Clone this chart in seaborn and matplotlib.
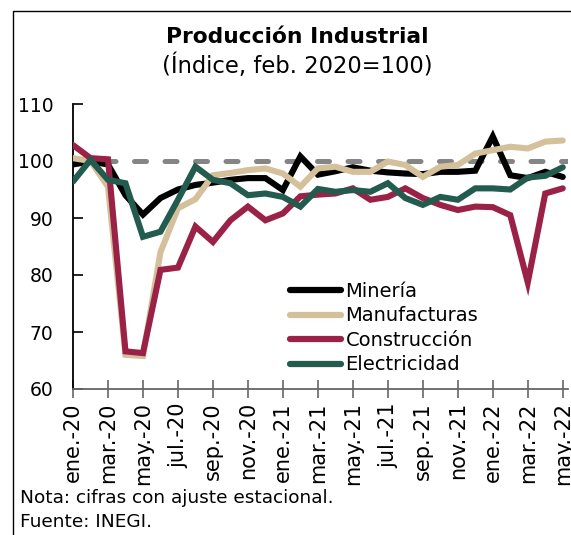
import matplotlib
matplotlib.use("Agg")
import matplotlib.pyplot as plt
import matplotlib.patches as mpatches
import seaborn as sns
import pandas as pd
import numpy as np

months = ["ene.-20", "feb.-20", "mar.-20", "abr.-20", "may.-20", "jun.-20", "jul.-20",
          "ago.-20", "sep.-20", "oct.-20", "nov.-20", "dic.-20",
          "ene.-21", "feb.-21", "mar.-21", "abr.-21", "may.-21", "jun.-21", "jul.-21",
          "ago.-21", "sep.-21", "oct.-21", "nov.-21", "dic.-21",
          "ene.-22", "feb.-22", "mar.-22", "abr.-22", "may.-22"]

mineria = [99.4, 99.9, 99.4, 94.0, 90.6, 93.5, 95.0, 95.8, 96.2, 96.7, 97.0, 97.0,
           94.9, 100.8, 97.6, 98.2, 98.9, 98.3, 98.0, 97.8, 97.7, 98.1, 98.1, 98.3,
           104.3, 97.5, 97.0, 98.1, 97.2]
manufacturas = [100.5, 100.0, 95.5, 66.0, 65.8, 84.0, 91.7, 93.3, 97.5, 97.9, 98.4, 98.7,
                97.8, 95.5, 98.7, 99.0, 98.1, 98.1, 99.9, 99.3, 97.2, 99.0, 99.3, 101.3,
                101.9, 102.5, 102.2, 103.4, 103.6]
construccion = [102.8, 100.5, 100.3, 66.6, 66.3, 80.9, 81.3, 88.5, 85.8, 89.6, 92.0, 89.6,
                90.8, 93.8, 94.1, 94.3, 95.2, 93.2, 93.7, 95.2, 93.5, 92.3, 91.4, 92.0,
                91.9, 90.5, 78.7, 94.3, 95.2]
electricidad = [96.4, 100.2, 96.7, 96.1, 86.7, 87.6, 93.2, 99.0, 96.7, 96.1, 94.0, 94.3,
                93.7, 92.0, 95.1, 94.6, 94.9, 94.6, 96.1, 93.5, 92.3, 93.7, 93.2, 95.2,
                95.2, 95.0, 97.1, 97.4, 98.9]

series_names = ["Minería", "Manufacturas", "Construcción", "Electricidad"]
colors = ["#000000", "#D4C19C", "#9B2247", "#235B4E"]
yticks = [60, 70, 80, 90, 100, 110]

df = pd.DataFrame({"idx": np.arange(len(months)), "Minería": mineria,
                   "Manufacturas": manufacturas, "Construcción": construccion,
                   "Electricidad": electricidad})
long = df.melt(id_vars="idx", var_name="serie", value_name="valor")

sns.set_style("white")
plt.rcParams["font.family"] = ["DejaVu Sans"]
plt.rcParams["text.color"] = "black"
plt.rcParams["xtick.color"] = "black"
plt.rcParams["ytick.color"] = "black"

fig = plt.figure(figsize=(5.71, 5.35), dpi=100)
ax = fig.add_axes([73 / 571, 1 - 389 / 535, (568 - 73) / 571, 285 / 535])

ref = ax.axhline(100, color="#858585", lw=3.6, ls=(0, (2.4, 3.7)), zorder=1)
ref.set_dash_capstyle("round")

sns.lineplot(data=long, x="idx", y="valor", hue="serie", hue_order=series_names,
             palette=colors, linewidth=4.4, ax=ax, legend=False, sort=False, zorder=3)
for l in ax.lines[1:]:
    l.set_solid_capstyle("round")
    l.set_solid_joinstyle("miter")

ax.set_xlim(0, 28.3)
ax.set_ylim(60, 110)
ax.set_yticks(yticks)
ax.set_yticklabels([str(v) for v in yticks], fontsize=13.5)
ax.set_xticks(np.arange(0, len(months), 2))
ax.set_xticklabels(months[::2], rotation=90, fontsize=15)
ax.set_xlabel("")
ax.set_ylabel("")
ax.tick_params(axis="y", direction="in", length=7, width=1.2, color="#000000", pad=14, left=True)
ax.tick_params(axis="x", direction="inout", length=13, width=1.2, color="#666666", pad=3, bottom=True)
for s in ["top", "right"]:
    ax.spines[s].set_visible(False)
ax.spines["left"].set_color("#000000")
ax.spines["left"].set_linewidth(1.3)
ax.spines["bottom"].set_color("#666666")
ax.spines["bottom"].set_linewidth(1.3)

handles = [plt.Line2D([0], [0], color=c, lw=4.5, solid_capstyle="round") for c in colors]
ax.legend(handles, series_names, loc="upper left", bbox_to_anchor=(290 / 571, 1 - 282 / 535),
          bbox_transform=fig.transFigure, frameon=False, fontsize=14, handlelength=2.6,
          handletextpad=0.25, labelspacing=0.28, borderaxespad=0, borderpad=0)

fig.text(297 / 571, 1 - 37 / 535, "Producción Industrial", ha="center", va="center",
         fontsize=15.7, fontweight="bold")
fig.text(297 / 571, 1 - 66 / 535, "(Índice, feb. 2020=100)", ha="center", va="center",
         fontsize=16.3)
fig.text(20 / 571, 1 - 498 / 535, "Nota: cifras con ajuste estacional.", ha="left",
         va="center", fontsize=13.3)
fig.text(20 / 571, 1 - 522 / 535, "Fuente: INEGI.", ha="left", va="center", fontsize=13.3)

fig.patches.append(mpatches.Rectangle((13 / 571, -0.1), 1.2, 1 - 11 / 535 + 0.1,
                                      transform=fig.transFigure, fill=False,
                                      edgecolor="#000000", lw=1.0))

fig.savefig("out.png", dpi=100)
